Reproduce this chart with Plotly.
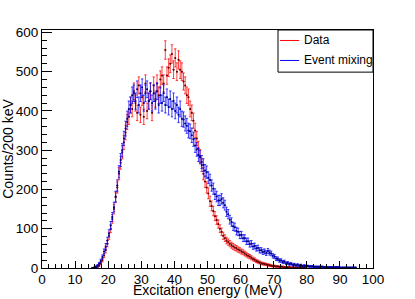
import numpy as np
import plotly.graph_objects as go

bin_width = 0.5
x_start = 15.25

data_counts = [
    0, 0, 1, 3, 6, 12, 20, 32, 45, 62,
    82, 100, 125, 150, 180, 205, 240, 268, 295, 320,
    345, 372, 385, 415, 405, 450, 420, 395, 465, 390,
    435, 385, 470, 400, 425, 450, 395, 465, 430, 470,
    440, 480, 490, 470, 555, 490, 510, 520, 545, 505,
    535, 500, 530, 505, 500, 475, 465, 440, 435, 405,
    395, 375, 350, 330, 305, 285, 262, 240, 220, 205,
    190, 170, 158, 145, 132, 122, 112, 100, 92, 82,
    76, 70, 66, 62, 58, 55, 52, 50, 47, 45,
    42, 40, 37, 34, 31, 29, 26, 23, 21, 18,
    16, 14, 12, 11, 10, 9, 8, 7, 6, 5,
    5, 4, 4, 3, 3, 3, 2, 2, 2, 2,
    1, 1, 1, 1, 1, 1, 1, 1, 1, 1,
]

mixing_counts = [
    0, 1, 3, 6, 11, 18, 28, 42, 55, 70,
    88, 108, 130, 155, 182, 210, 245, 275, 300, 330,
    355, 380, 405, 415, 440, 445, 425, 455, 415, 445,
    460, 420, 445, 455, 425, 450, 420, 445, 425, 450,
    415, 440, 420, 445, 415, 435, 410, 430, 405, 425,
    400, 415, 390, 405, 380, 378, 368, 362, 350, 348,
    338, 328, 312, 302, 288, 282, 270, 262, 248, 244,
    230, 224, 210, 202, 188, 182, 172, 172, 176, 166,
    160, 143, 137, 123, 117, 106, 104, 94, 92, 84,
    84, 76, 76, 68, 68, 61, 62, 55, 56, 50,
    51, 45, 45, 41, 42, 38, 43, 39, 37, 31,
    29, 24, 23, 19, 19, 15, 16, 12, 13, 10,
    11, 8, 9, 7, 8, 6, 7, 5, 6, 5,
    5, 4, 4, 4, 3, 3, 3, 3, 3, 3,
    2, 2, 2, 2, 2, 2, 2, 2, 2, 2,
    1, 1, 1, 1, 1, 1, 1, 1, 1, 1,
]

series_names = ["Data", "Event mixing"]
x_ticks = [0, 10, 20, 30, 40, 50, 60, 70, 80, 90, 100]
y_ticks = [0, 100, 200, 300, 400, 500, 600]
x_title = "Excitation energy (MeV)"
y_title = "Counts/200 keV"

FONT = "Liberation Sans, Arial, Helvetica, sans-serif"


def centers(n):
    return x_start + bin_width * np.arange(n)


fig = go.Figure()

styles = [
    dict(err="rgba(255,0,0,0.75)", mk="rgb(90,0,0)"),
    dict(err="rgba(0,0,255,0.75)", mk="rgb(0,0,120)"),
]

for counts, name, st in zip([data_counts, mixing_counts], series_names, styles):
    y = np.array(counts, dtype=float)
    xx = centers(len(y))
    fig.add_trace(go.Scatter(
        x=xx, y=y, mode="markers", name=name, showlegend=False,
        marker=dict(size=2, color=st["mk"]),
        error_y=dict(type="data", array=np.sqrt(y), color=st["err"],
                     thickness=1, width=1.2),
        error_x=dict(type="constant", value=bin_width / 2, color=st["err"],
                     thickness=1, width=0),
    ))

axis_common = dict(
    showgrid=False, zeroline=False, showline=True, linecolor="black",
    linewidth=1, mirror=True, ticks="inside", tickcolor="black",
    automargin=False,
    tickfont=dict(family=FONT, size=13.5, color="black"),
)

fig.update_xaxes(
    range=[0, 100], tickvals=x_ticks, ticklen=7, ticklabelstandoff=-1,
    minor=dict(dtick=2, ticklen=4, ticks="inside", tickcolor="black"),
    **axis_common,
)
fig.update_yaxes(
    range=[0, 606], tickvals=y_ticks, ticklen=10,
    minor=dict(dtick=20, ticklen=5, ticks="inside", tickcolor="black"),
    title=dict(text=y_title,
               font=dict(family=FONT, size=14, color="black")),
    **axis_common,
)

# x-axis title as annotation to control placement
fig.add_annotation(xref="paper", yref="paper", x=0.5, y=-0.131, text=x_title,
                   showarrow=False, xanchor="center", yanchor="bottom",
                   borderpad=0,
                   font=dict(family=FONT, size=14, color="black"))

# legend box (ROOT style)
lx0, lx1, ly0, ly1 = 0.713, 1.0, 0.823, 1.0
fig.add_shape(type="rect", xref="paper", yref="paper", x0=lx0, x1=lx1,
              y0=ly0, y1=ly1, line=dict(color="black", width=1),
              fillcolor="white", layer="above")
for name, col, yy in [(series_names[0], "red", 0.956), (series_names[1], "blue", 0.872)]:
    fig.add_shape(type="line", xref="paper", yref="paper", x0=0.719, x1=0.777,
                  y0=yy, y1=yy, line=dict(color=col, width=1), layer="above")
    fig.add_annotation(xref="paper", yref="paper", x=0.785, y=yy, text=name,
                       showarrow=False, xanchor="left", yanchor="middle",
                       font=dict(family=FONT, size=12, color="black"))

fig.update_layout(
    width=415, height=299,
    margin=dict(l=42, r=42, t=30, b=31),
    paper_bgcolor="white", plot_bgcolor="white",
    showlegend=False,
)

fig.write_html("out.html", config={"displayModeBar": False},
               post_script="document.body.style.margin='0';document.body.style.overflow='hidden';")
